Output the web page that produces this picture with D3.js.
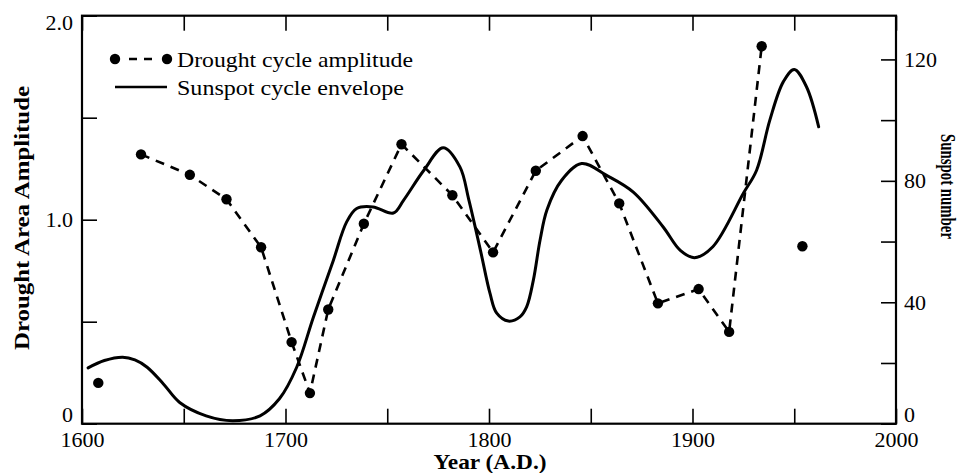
<!DOCTYPE html>
<html>
<head>
<meta charset="utf-8">
<script src="https://cdn.jsdelivr.net/npm/d3@7"></script>
<style>
  html, body { margin: 0; padding: 0; background: #fff; }
  svg { display: block; }
  text { font-family: "Liberation Serif", "Times New Roman", serif; fill: #000; }
</style>
</head>
<body>
<svg id="chart" width="964" height="473"></svg>
<script>
// ---- data ----
const droughtYears = [1608, 1629, 1653, 1671, 1688, 1703, 1712, 1721, 1738.5, 1757, 1782, 1802, 1823, 1846, 1864, 1883, 1903, 1918, 1934, 1954];
const droughtAmp   = [0.20, 1.32, 1.22, 1.10, 0.865, 0.40, 0.15, 0.56, 0.98, 1.37, 1.12, 0.84, 1.24, 1.41, 1.08, 0.59, 0.66, 0.45, 1.85, 0.87];
const droughtLinked = [false, true, true, true, true, true, true, true, true, true, true, true, true, true, true, true, true, true, true, false];

const sunspotYears = [1603, 1611, 1620, 1626, 1632, 1640, 1648, 1661, 1674, 1687.5, 1697, 1705.5, 1713.7, 1723.5, 1730, 1735, 1743, 1753, 1758, 1768, 1777.5, 1785.7, 1790, 1795.8, 1800.5, 1803.8, 1809.5, 1815.2, 1818.5, 1821.8, 1825.1, 1828.5, 1835.7, 1845.5, 1857.8, 1870.9, 1885.6, 1894, 1901, 1910, 1925, 1931.5, 1938, 1944.6, 1950, 1956, 1962];
const sunspotVals  = [18.4, 20.8, 21.9, 21.0, 18.6, 13.1, 7.0, 2.6, 1.0, 2.6, 8.2, 18.6, 35.1, 53.8, 66.4, 70.9, 71.4, 69.4, 73.6, 83.5, 90.9, 84.6, 74.0, 57.1, 42.9, 36.4, 33.8, 35.2, 38.5, 47.3, 60.5, 70.5, 80.2, 85.7, 81.8, 76.3, 64.8, 57.1, 54.7, 58.3, 75.9, 83.5, 100, 112.6, 116.7, 111, 97.8];

const yearTicks = [1600, 1650, 1700, 1750, 1800, 1850, 1900, 1950, 2000];
const yearLabels = ["1600", "", "1700", "", "1800", "", "1900", "", "2000"];
const ampTicks = [0, 0.5, 1.0, 1.5, 2.0];
const ampLabels = ["0", "", "1.0", "", "2.0"];
const spotTicks = [0, 20, 40, 60, 80, 100, 120];
const spotLabels = ["0", "", "40", "", "80", "", "120"];

const legendLabels = ["Drought cycle amplitude", "Sunspot cycle envelope"];
const xTitle = "Year (A.D.)";
const yLeftTitle = "Drought Area Amplitude";
const yRightTitle = "Sunspot number";

// ---- layout ----
const L = 82, R = 896, T = 15.7, B = 423.7;
const svg = d3.select("#chart");
svg.append("rect").attr("width", 964).attr("height", 473).attr("fill", "#fff");

const x = d3.scaleLinear().domain([1600, 2000]).range([L, R]);
const yL = d3.scaleLinear().domain([0, 2]).range([B, T]);
const yR = d3.scaleLinear().domain([0, 134.4]).range([B, T]);

const tickLen = 15;
function styleAxis(g) {
  g.select(".domain").remove();
  g.selectAll(".tick line").attr("stroke", "#000").attr("stroke-width", 1.6);
  g.selectAll("text").style("font-size", "22px").style("font-family", '"Liberation Serif", serif').attr("fill", "#000");
}

// bottom
const gB = svg.append("g").attr("transform", `translate(0,${B})`)
  .call(d3.axisBottom(x).tickValues(yearTicks).tickSize(-tickLen).tickPadding(7)
    .tickFormat((d, i) => yearLabels[i]));
styleAxis(gB);
gB.selectAll(".tick text").attr("y", 8);
// top
const gT = svg.append("g").attr("transform", `translate(0,${T})`)
  .call(d3.axisTop(x).tickValues(yearTicks).tickSize(-tickLen).tickFormat(() => ""));
styleAxis(gT);
// left
const gL = svg.append("g").attr("transform", `translate(${L},0)`)
  .call(d3.axisLeft(yL).tickValues(ampTicks).tickSize(-tickLen)
    .tickFormat((d, i) => ampLabels[i]));
styleAxis(gL);
gL.selectAll(".tick text").attr("x", -9);
// right
const gR = svg.append("g").attr("transform", `translate(${R},0)`)
  .call(d3.axisRight(yR).tickValues(spotTicks).tickSize(-tickLen)
    .tickFormat((d, i) => spotLabels[i]));
styleAxis(gR);
gR.selectAll(".tick text").attr("x", 8);

// keep end labels inside the frame height
[gL, gR].forEach(g => {
  g.selectAll(".tick").each(function () {
    const tr = d3.select(this).attr("transform");
    const ty = +tr.match(/,\s*([-\d.]+)\)/)[1];
    const t = d3.select(this).select("text");
    if (ty < T + 6) t.attr("dy", "0.62em");
    else if (ty > B - 6) t.attr("dy", "-0.08em");
  });
});

// frame
svg.append("rect").attr("x", L).attr("y", T).attr("width", R - L).attr("height", B - T)
  .attr("fill", "none").attr("stroke", "#000").attr("stroke-width", 2.2);

// sunspot envelope
const sunData = sunspotYears.map((yr, i) => [yr, sunspotVals[i]]);
svg.append("path").datum(sunData)
  .attr("fill", "none").attr("stroke", "#000").attr("stroke-width", 3)
  .attr("stroke-linecap", "round")
  .attr("d", d3.line().x(d => x(d[0])).y(d => yR(d[1])).curve(d3.curveCatmullRom.alpha(0.5)));

// drought dashed line
const drData = droughtYears.map((yr, i) => ({ yr, v: droughtAmp[i], linked: droughtLinked[i] }));
svg.append("path").datum(drData.filter(d => d.linked))
  .attr("fill", "none").attr("stroke", "#000").attr("stroke-width", 2.6)
  .attr("stroke-dasharray", "9,7")
  .attr("d", d3.line().x(d => x(d.yr)).y(d => yL(d.v)));
svg.append("g").selectAll("circle").data(drData).join("circle")
  .attr("cx", d => x(d.yr)).attr("cy", d => yL(d.v)).attr("r", 5.2).attr("fill", "#000");

// legend
const lg = svg.append("g");
lg.append("line").attr("x1", 115).attr("x2", 167).attr("y1", 59).attr("y2", 59)
  .attr("stroke", "#000").attr("stroke-width", 2.6).attr("stroke-dasharray", "0,14,8,7,8,20");
lg.append("circle").attr("cx", 115).attr("cy", 59).attr("r", 5.2);
lg.append("circle").attr("cx", 167).attr("cy", 59).attr("r", 5.2);
lg.append("line").attr("x1", 115).attr("x2", 167).attr("y1", 87).attr("y2", 87)
  .attr("stroke", "#000").attr("stroke-width", 2.6);
lg.selectAll("text").data(legendLabels).join("text")
  .attr("x", 177).attr("y", (d, i) => 59 + i * 28).attr("dy", "0.35em")
  .style("font-size", "22px")
  .attr("textLength", (d, i) => i === 0 ? 236 : 227).attr("lengthAdjust", "spacingAndGlyphs")
  .text(d => d);

// axis titles
svg.append("text").attr("x", 490).attr("y", 469).attr("text-anchor", "middle")
  .style("font-size", "21px").style("font-weight", "bold")
  .attr("textLength", 113).attr("lengthAdjust", "spacingAndGlyphs").text(xTitle);
svg.append("text").attr("transform", `translate(29,${(86 + 350) / 2}) rotate(-90)`)
  .attr("text-anchor", "middle").style("font-size", "21px").style("font-weight", "bold")
  .attr("textLength", 264).attr("lengthAdjust", "spacingAndGlyphs").text(yLeftTitle);
svg.append("text").attr("transform", `translate(941,${(134 + 239) / 2}) rotate(90)`)
  .attr("text-anchor", "middle").style("font-size", "20px").style("font-weight", "bold")
  .attr("textLength", 105).attr("lengthAdjust", "spacingAndGlyphs").text(yRightTitle);
</script>
</body>
</html>
